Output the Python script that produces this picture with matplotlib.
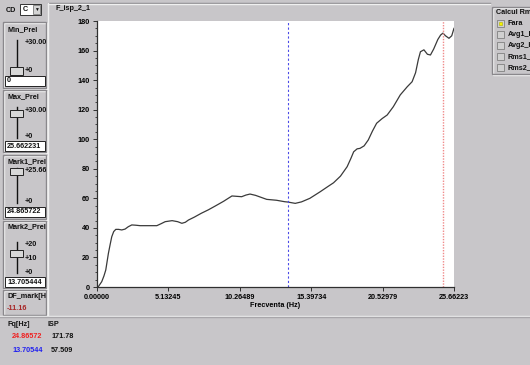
import numpy as np
import matplotlib
matplotlib.use("Agg")
import matplotlib.pyplot as plt
from matplotlib.patches import Rectangle
from matplotlib.transforms import Bbox, TransformedBbox

# ISP spectrum
freq = [0.00, 0.10, 0.34, 0.50, 0.63, 0.82, 0.95, 1.06, 1.20, 1.35, 1.55, 1.78,
        2.02, 2.25, 2.50, 2.80, 3.10, 3.70, 4.30, 4.60, 4.90, 5.40, 5.80, 6.10,
        6.35, 6.57, 7.00, 7.50, 8.00, 8.50, 9.10, 9.70, 10.40, 10.70, 11.00,
        11.40, 12.20, 12.90, 13.50, 13.71, 14.25, 14.70, 15.30, 16.05, 16.60,
        17.00, 17.50, 17.98, 18.25, 18.45, 18.70, 18.90, 19.20, 19.50, 19.80,
        20.10, 20.50, 20.86, 21.30, 21.80, 22.30, 22.65, 22.90, 23.10, 23.25,
        23.50, 23.75, 23.97, 24.20, 24.50, 24.70, 24.87, 25.05, 25.30, 25.50,
        25.66]
isp = [0.0, 0.3, 3.6, 7.5, 11.5, 22.8, 29.0, 34.0, 37.5, 39.0, 39.0, 38.6,
       39.2, 40.8, 42.0, 41.8, 41.5, 41.5, 41.5, 42.8, 44.2, 44.9, 44.2, 43.1,
       43.8, 45.3, 47.3, 49.9, 52.2, 54.8, 58.0, 61.6, 61.1, 62.2, 62.9,
       62.0, 59.3, 58.7, 57.7, 57.5, 56.6, 57.6, 60.0, 64.5, 68.0,
       70.5, 75.0, 81.4, 87.0, 91.5, 93.5, 93.8, 95.5, 99.5, 105.5,
       110.8, 114.0, 116.4, 122.0, 130.0, 135.5, 138.9, 145.0, 154.0, 159.2,
       160.5, 157.5, 157.0, 161.0, 167.5, 170.5, 171.8, 170.0, 168.3, 170.0,
       175.0]

x_ticklabels = ["0.00000", "5.13245", "10.26489", "15.39734", "20.52979", "25.66223"]
y_ticks = [0, 20, 40, 60, 80, 100, 120, 140, 160, 180]

mark1 = 24.86572
mark2 = 13.70544
mark1_isp = 171.78
mark2_isp = 57.509
df_mark = mark2 - mark1

min_prel = 0
max_prel = 25.662231
mark1_prel = 24.865722
mark2_prel = 13.705444

rms_options = ["Fara", "Avg1_Hz", "Avg2_Hz", "Rms1_Hz", "Rms2_Hz"]

W, H = 530, 365
PANEL = "#c8c6c9"
FONT = ["Liberation Sans", "DejaVu Sans"]
plt.rcParams["font.family"] = FONT

fig = plt.figure(figsize=(W / 100, H / 100), dpi=100, facecolor=PANEL)


def fx(px):
    return px / W


def fy(py):
    return 1 - py / H


def box(x0, y0, x1, y1, face="none", edge="#f4f4f4", lw=1.0, z=1):
    fig.patches.append(Rectangle((fx(x0), fy(y1)), fx(x1) - fx(x0), fy(y0) - fy(y1),
                                 transform=fig.transFigure, facecolor=face,
                                 edgecolor=edge, lw=lw, zorder=z))


def frame(x0, y0, x1, y1):
    box(x0 + 1, y0 + 1, x1 + 1, y1 + 1, edge="#f6f6f6")
    box(x0, y0, x1, y1, edge="#8a888c")


def label(px, py, s, size=5.2, color="#111111", clip=None, **kw):
    t = fig.text(fx(px), fy(py), s, fontsize=size, color=color, fontweight="bold",
                 va="center", ha=kw.pop("ha", "left"), **kw)
    if clip is not None:
        x0, y0, x1, y1 = clip
        t.set_clip_box(TransformedBbox(Bbox([[fx(x0), fy(y1)], [fx(x1), fy(y0)]]),
                                       fig.transFigure))
        t.set_clip_on(True)
    return t


def hline(x0, x1, py, color, lw=1.0):
    fig.lines.append(plt.Line2D([fx(x0), fx(x1)], [fy(py), fy(py)], transform=fig.transFigure,
                                color=color, lw=lw))


def vline(px, y0, y1, color, lw=1.0):
    fig.lines.append(plt.Line2D([fx(px), fx(px)], [fy(y0), fy(y1)], transform=fig.transFigure,
                                color=color, lw=lw))


def slider(top_y, bot_y, vmax, value, scale, y0, y1):
    # track, scale labels and thumb of a vertical slide control
    vline(17, top_y - 3, bot_y + 1, "#111111", lw=1.0)
    for v, s in scale:
        py = bot_y - (bot_y - top_y) * v / vmax
        label(25, py, s, clip=(3, y0, 46, y1))
    ty = bot_y - (bot_y - top_y) * value / vmax
    box(10, ty - 3.5, 23, ty + 3.5, face="#d8d8d8", edge="#222222", lw=0.7, z=3)
    hline(10, 23, ty, "#222222", lw=0.6)


# graph panel borders
hline(48, 490, 3, "#8a888c")
hline(48, 490, 4, "#f0f0f0")
vline(48, 3, 316, "#f0f0f0")
hline(0, 530, 316, "#f0f0f0")
hline(0, 530, 317, "#a8a6aa")

# ring selector
label(6, 10, "CD")
box(20, 4, 41, 15, face="white", edge="#333333", lw=0.7)
label(23, 9.8, "C")
box(33, 5, 40, 14, face="#d4d4d4", edge="#666666", lw=0.5, z=2)
label(36.5, 9.8, "\u25bc", size=3.5, ha="center")

# left-hand slide controls
frame(3, 22, 46, 88)
label(7, 30, "Min_Prel", clip=(3, 22, 46, 88))
slider(43, 71, 30, min_prel, [(30, "+30.00"), (0, "+0")], 22, 88)
box(5, 76, 45, 86, face="white", edge="#222222", lw=0.7)
label(7, 81, f"{min_prel:g}", clip=(5, 76, 45, 86))

frame(3, 90, 46, 152)
label(7, 97, "Max_Prel", clip=(3, 90, 46, 152))
slider(110, 137, 30, max_prel, [(30, "+30.00"), (0, "+0")], 90, 152)
box(5, 141, 45, 151, face="white", edge="#222222", lw=0.7)
label(7, 146, f"{max_prel:.6f}", clip=(5, 141, 45, 151))

frame(3, 155, 46, 219)
label(7, 162, "Mark1_Prel", clip=(3, 155, 46, 219))
slider(171, 202, 25.66, mark1_prel, [(25.66, "+25.66"), (0, "+0")], 155, 219)
box(5, 207, 45, 217, face="white", edge="#222222", lw=0.7)
label(7, 212, f"{mark1_prel:.6f}", clip=(5, 207, 45, 217))

frame(3, 221, 46, 288)
label(7, 227, "Mark2_Prel", clip=(3, 221, 46, 288))
slider(245, 272, 20, mark2_prel, [(20, "+20"), (10, "+10"), (0, "+0")], 221, 288)
box(5, 277, 45, 287, face="white", edge="#222222", lw=0.7)
label(7, 282, f"{mark2_prel:.6f}", clip=(5, 277, 45, 287))

frame(3, 290, 46, 315)
label(7, 297, "DF_mark[Hz]", clip=(3, 290, 46, 315))
label(7, 308, f"{df_mark:.2f}", color="#a82828")

# cursor readout table
label(8, 324, "Fq[Hz]")
label(47, 324, "ISP")
label(12, 337, f"{mark1:.5f}", color="#f02020")
label(51, 337, f"{mark1_isp:g}")
label(12, 351, f"{mark2:.5f}", color="#2020f0")
label(51, 351, f"{mark2_isp:g}")

# calculation selector on the right
frame(492, 7, 534, 74)
label(496, 13, "Calcul Rms")
for i, name in enumerate(rms_options):
    cy = 23 + 11 * i
    box(497, cy - 3, 504, cy + 4, face="#d0d0d0", edge="#808080", lw=0.6)
    if i == 0:
        box(499, cy - 1, 502, cy + 2, face="#f4f400", edge="#b0b000", lw=0.4, z=2)
    label(508, cy + 0.5, name)

# graph title
label(56, 8, "F_isp_2_1")

# spectrum plot
ax = fig.add_axes([fx(97), fy(287), fx(454) - fx(97), fy(21) - fy(287)])
ax.set_facecolor("white")
ax.plot(freq, isp, color="#3a3a3a", lw=0.9)
ax.axvline(mark2, color="#4a4ae8", lw=0.8, dashes=(2, 2))
ax.axvline(mark1, color="#f08a8a", lw=1.0, dashes=(1, 1))

ax.set_xlim(0, float(x_ticklabels[-1]))
ax.set_ylim(0, 180)
ax.set_xticks([float(s) for s in x_ticklabels])
ax.set_xticklabels(x_ticklabels)
ax.set_yticks(y_ticks)
ax.set_yticks(np.arange(0, 181, 5), minor=True)
for s in ("top", "right"):
    ax.spines[s].set_visible(False)
for s in ("left", "bottom"):
    ax.spines[s].set_color("#303030")
    ax.spines[s].set_linewidth(0.9)
ax.tick_params(axis="both", which="major", length=3, width=0.7, color="#303030",
               labelsize=5.2, pad=2)
ax.tick_params(axis="y", which="minor", length=1.5, width=0.6, color="#303030")
for t in ax.get_xticklabels() + ax.get_yticklabels():
    t.set_fontweight("bold")
ax.set_xlabel("Frecventa (Hz)", fontsize=5.2, fontweight="bold", labelpad=1)

fig.savefig("out.png", dpi=100, facecolor=PANEL)
